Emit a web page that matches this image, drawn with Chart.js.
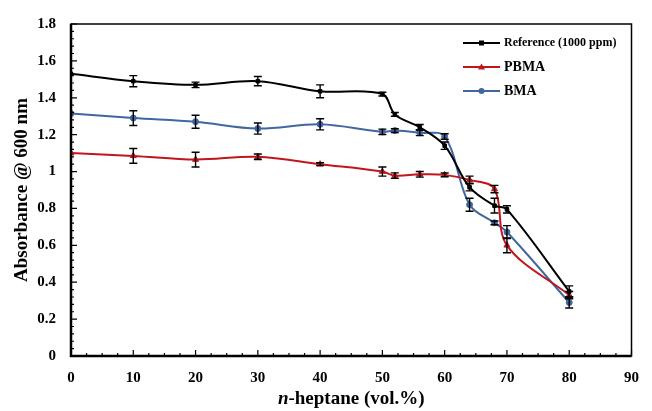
<!DOCTYPE html>
<html>
<head>
<meta charset="utf-8">
<script src="https://cdn.jsdelivr.net/npm/chart.js@4.4.1/dist/chart.umd.min.js"></script>
<style>
  html, body { margin: 0; padding: 0; background: #fff; }
  #wrap { width: 652px; height: 411px; }
</style>
</head>
<body>
<div id="wrap"><canvas id="chart" width="652" height="411"></canvas></div>
<script>
// n-heptane content (vol.%)
const heptane = [0, 10, 20, 30, 40, 50, 52, 56, 60, 64, 68, 70, 80]

// absorbance @ 600 nm
const refValues = [1.53, 1.49, 1.47, 1.49, 1.435, 1.42, 1.31, 1.24, 1.14, 0.915, 0.815, 0.795, 0.35]
const pbmaValues = [1.10, 1.085, 1.065, 1.08, 1.04, 1.00, 0.978, 0.985, 0.982, 0.955, 0.905, 0.60, 0.33]
const bmaValues = [1.315, 1.29, 1.27, 1.233, 1.256, 1.215, 1.222, 1.21, 1.19, 0.82, 0.722, 0.672, 0.29]

// error bar half-heights
const refErrors = [0, 0.03, 0.015, 0.025, 0.035, 0.01, 0.01, 0.015, 0.02, 0.02, 0.04, 0.02, 0.03]
const pbmaErrors = [0, 0.04, 0.04, 0.015, 0.008, 0.025, 0.015, 0.015, 0.01, 0.02, 0.02, 0.04, 0.02]
const bmaErrors = [0, 0.04, 0.035, 0.03, 0.03, 0.015, 0.01, 0.015, 0.015, 0.035, 0.01, 0.035, 0.03]

const seriesLabels = ["Reference (1000 ppm)", "PBMA", "BMA"]
const xTicks = [0, 10, 20, 30, 40, 50, 60, 70, 80, 90]
const yTicks = [0, 0.2, 0.4, 0.6, 0.8, 1, 1.2, 1.4, 1.6, 1.8]

const COLORS = { ref: "#000000", pbma: "#c0161c", bma: "#40679f" }
const SERIF = "'Liberation Serif', 'Times New Roman', serif"

const toPoints = (vals) => vals.map((v, i) => ({ x: heptane[i], y: v }))

function makeDataset(label, vals, errs, color, style, radius) {
  return {
    label: label,
    data: toPoints(vals),
    errors: errs,
    borderColor: color,
    backgroundColor: color,
    borderWidth: 2,
    pointStyle: style,
    pointRadius: radius,
    pointBorderWidth: 1,
    tension: 0.35,
  }
}

// error bars, inward tick marks, frame, legend and axis titles
const decorPlugin = {
  id: "decor",
  afterDatasetsDraw(chart) {
    const ctx = chart.ctx
    const xs = chart.scales.x
    const ys = chart.scales.y
    ctx.save()
    ctx.strokeStyle = "#000"
    ctx.lineWidth = 1.4
    chart.data.datasets.forEach((ds) => {
      ds.data.forEach((p, i) => {
        const e = ds.errors[i]
        if (!e) return
        const px = xs.getPixelForValue(p.x)
        const top = ys.getPixelForValue(p.y + e)
        const bot = ys.getPixelForValue(p.y - e)
        ctx.beginPath()
        ctx.moveTo(px, top); ctx.lineTo(px, bot)
        ctx.moveTo(px - 4, top); ctx.lineTo(px + 4, top)
        ctx.moveTo(px - 4, bot); ctx.lineTo(px + 4, bot)
        ctx.stroke()
      })
    })
    ctx.restore()
  },
  afterDraw(chart) {
    const ctx = chart.ctx
    const area = chart.chartArea
    const xs = chart.scales.x
    const ys = chart.scales.y
    ctx.save()

    // frame
    ctx.strokeStyle = "#000"
    ctx.lineWidth = 1.5
    ctx.strokeRect(area.left, area.top, area.right - area.left, area.bottom - area.top)
    ctx.lineWidth = 2.5
    ctx.beginPath()
    ctx.moveTo(area.left, area.top); ctx.lineTo(area.left, area.bottom); ctx.lineTo(area.right, area.bottom)
    ctx.stroke()

    // minor + major ticks pointing inward
    ctx.lineWidth = 1.2
    ctx.beginPath()
    for (let v = 0; v <= 90.001; v += 2.5) {
      const px = xs.getPixelForValue(v)
      const len = Math.abs(v % 10) < 0.01 ? 6 : 3
      ctx.moveTo(px, area.bottom); ctx.lineTo(px, area.bottom - len)
    }
    for (let k = 0; k <= 45; k++) {
      const v = k * 0.04
      const py = ys.getPixelForValue(v)
      const len = k % 5 === 0 ? 6 : 3
      ctx.moveTo(area.left, py); ctx.lineTo(area.left + len, py)
    }
    ctx.stroke()

    // legend
    const rows = [
      { y: 43, font: "bold 12px " + SERIF },
      { y: 67, font: "bold 14px " + SERIF },
      { y: 91, font: "bold 14px " + SERIF },
    ]
    chart.data.datasets.forEach((ds, i) => {
      const r = rows[i]
      const x0 = 463, x1 = 500, cx = (x0 + x1) / 2
      ctx.strokeStyle = ds.borderColor
      ctx.fillStyle = ds.borderColor
      ctx.lineWidth = 2
      ctx.beginPath(); ctx.moveTo(x0, r.y); ctx.lineTo(x1, r.y); ctx.stroke()
      ctx.beginPath()
      if (ds.pointStyle === "rect") ctx.rect(cx - 2.5, r.y - 2.5, 5, 5)
      else if (ds.pointStyle === "triangle") { ctx.moveTo(cx, r.y - 3.5); ctx.lineTo(cx + 3.5, r.y + 2.5); ctx.lineTo(cx - 3.5, r.y + 2.5); ctx.closePath() }
      else ctx.arc(cx, r.y, 3, 0, Math.PI * 2)
      ctx.fill()
      ctx.fillStyle = "#000"
      ctx.font = r.font
      ctx.textAlign = "left"
      ctx.textBaseline = "middle"
      ctx.fillText(ds.label, x1 + 4, r.y)
    })

    // y axis title
    ctx.fillStyle = "#000"
    ctx.font = "bold 19px " + SERIF
    ctx.textAlign = "center"
    ctx.textBaseline = "middle"
    ctx.save()
    ctx.translate(22, (area.top + area.bottom) / 2)
    ctx.rotate(-Math.PI / 2)
    ctx.fillText("Absorbance @ 600 nm", 0, 0)
    ctx.restore()

    // x axis title with italic n
    const part1 = "n"
    const part2 = "-heptane (vol.%)"
    ctx.font = "bold italic 19px " + SERIF
    const w1 = ctx.measureText(part1).width
    ctx.font = "bold 19px " + SERIF
    const w2 = ctx.measureText(part2).width
    const start = (area.left + area.right) / 2 - (w1 + w2) / 2
    ctx.textAlign = "left"
    ctx.font = "bold italic 19px " + SERIF
    ctx.fillText(part1, start, 399)
    ctx.font = "bold 19px " + SERIF
    ctx.fillText(part2, start + w1, 399)

    ctx.restore()
  },
}

const chart = new Chart(document.getElementById("chart"), {
  type: "line",
  data: {
    datasets: [
      makeDataset(seriesLabels[0], refValues, refErrors, COLORS.ref, "rect", 2.5),
      makeDataset(seriesLabels[1], pbmaValues, pbmaErrors, COLORS.pbma, "triangle", 3.5),
      makeDataset(seriesLabels[2], bmaValues, bmaErrors, COLORS.bma, "circle", 3),
    ],
  },
  options: {
    responsive: false,
    devicePixelRatio: 1,
    animation: false,
    layout: { padding: { top: 22, right: 17, left: 0, bottom: 0 } },
    plugins: {
      legend: { display: false },
      tooltip: { enabled: false },
    },
    scales: {
      x: {
        type: "linear",
        min: xTicks[0],
        max: xTicks[xTicks.length - 1],
        afterBuildTicks: (s) => { s.ticks = xTicks.map((v) => ({ value: v })) },
        afterFit: (s) => { s.height = 55 },
        grid: { display: false, drawTicks: false },
        border: { display: false },
        ticks: { color: "#000", padding: 13, font: { family: SERIF, size: 15, weight: "bold" } },
      },
      y: {
        min: yTicks[0],
        max: yTicks[yTicks.length - 1],
        afterBuildTicks: (s) => { s.ticks = yTicks.map((v) => ({ value: v })) },
        afterFit: (s) => { s.width = 71 },
        grid: { display: false, drawTicks: false },
        border: { display: false },
        ticks: {
          color: "#000",
          padding: 15,
          font: { family: SERIF, size: 15, weight: "bold" },
          callback: (v) => String(Number(v.toFixed(1))),
        },
      },
    },
  },
  plugins: [decorPlugin],
})
</script>
</body>
</html>
